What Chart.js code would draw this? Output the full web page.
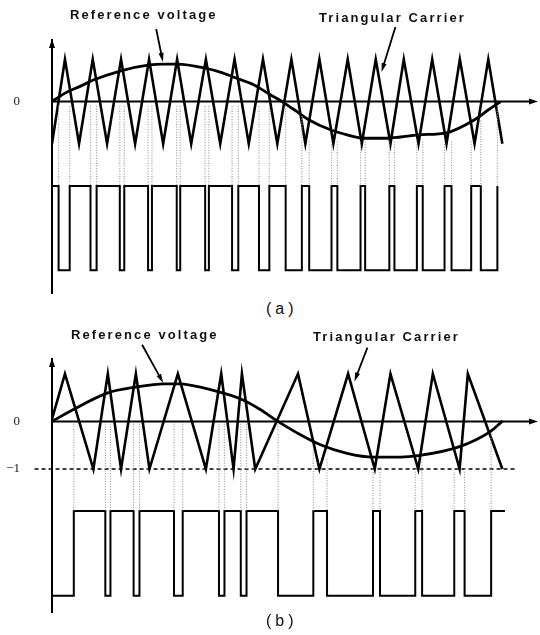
<!DOCTYPE html>
<html><head><meta charset="utf-8">
<script src="https://cdn.jsdelivr.net/npm/chart.js@4.4.1/dist/chart.umd.min.js"></script>
<style>
html,body{margin:0;padding:0;background:#fff;}
#wrap{position:relative;width:540px;height:635px;overflow:hidden;background:#fff;}
.box{position:absolute;left:0;width:540px;height:300px;}
.lbl{position:absolute;font-family:"Liberation Sans",Arial,sans-serif;font-weight:bold;font-size:13px;letter-spacing:2.1px;color:#111;white-space:nowrap;line-height:16px;}
.cap{position:absolute;font-family:"Liberation Sans",Arial,sans-serif;font-size:16px;letter-spacing:4px;color:#111;line-height:18px;white-space:nowrap;}
</style></head>
<body><div id="wrap">
<div class="box" style="top:0px"><canvas id="ca"></canvas></div>
<div class="box" style="top:320px"><canvas id="cb"></canvas></div>
<div class="lbl" style="left:70px;top:7px">Reference voltage</div>
<div class="lbl" style="left:319px;top:10px">Triangular Carrier</div>
<div class="cap" style="left:266px;top:300px">(a)</div>
<div class="lbl" style="left:71px;top:327px">Reference voltage</div>
<div class="lbl" style="left:313px;top:329px">Triangular Carrier</div>
<div class="cap" style="left:266px;top:612px">(b)</div>
</div>
<script>
// ---------- Panel (a): regular sampled carrier (x in degrees of reference phase, y in p.u.) ----------
const carrierAX = [0,10.4,21.7,32.7,44.2,55.4,66.7,77.9,89.2,100.4,111.7,123.5,135,146.5,157.9,169.3,180.8,192.1,203.3,214.6,225.8,237.3,248.6,259.8,271.6,282.3,294.1,305.1,316.6,327.3,339.1,350.1,361.4];
const carrierAY = [-1,1,-1,1,-1,1,-1,1,-1,1,-1,1,-1,1,-1,1,-1,1,-1,1,-1,1,-1,1,-1,1,-1,1,-1,1,-1,1,-1];
const sineAX = [0,10.4,22.5,33.2,55.4,78.2,89.4,100.7,123.5,135,146.5,161.8,175.2,184.6,196.6,206,223.4,236.8,250.2,269,279.7,294.1,316.6,339.1,350,360];
const sineAY = [0,0.20,0.36,0.51,0.73,0.87,0.89,0.89,0.79,0.70,0.57,0.40,0.16,0,-0.24,-0.43,-0.67,-0.79,-0.87,-0.87,-0.84,-0.79,-0.74,-0.43,-0.20,0];
const pulseEdgesA = [5.3,14.2,30.9,35.8,54.4,58.0,77.1,80.2,100.1,102.9,122.9,125.9,144.5,149.5,166.1,174.4,187.5,200.5,206.4,224.3,229.0,247.6,251.3,270.7,274.8,292.8,297.5,315.0,320.6,336.4,344.1,357.4];
const dotTopsA = [-0.1,-0.1,-0.1,-0.1,-0.1,-0.1,-0.1,-0.1,-0.1,-0.1,-0.1,-0.1,-0.1,-0.1,-0.1,-0.1,-0.1,-0.35,-0.95,-0.95,-0.95,-0.95,-0.95,-0.95,-0.95,-0.95,-0.95,-0.95,-0.95,-0.95,-0.45,-0.1];
const pulseLevelsA = [-2, -4];   // high, low
const pulseStartA = 'high';
const pulseEndA = 357.4;
const yTickValuesA = [0];
const yTickLabelsA = ['0'];

// ---------- Panel (b): modified carrier ----------
const carrierBX = [0,10.4,33.2,44.8,55.4,67.3,78.2,101.0,123.5,135.8,145.7,152.4,163.1,197.4,214.6,237.6,259.0,271.6,293.9,305.6,327.1,333.7,361.4];
const carrierBY = [0.05,1,-1,1,-1,1,-1,1,-1,1,-1,1,-1,1,-1,1,-1,1,-1,1,-1,1,-1];
const sineBX = [0,17.1,44.8,67.3,89.4,101,132.4,152.4,167.1,180.6,196.6,215.4,236.8,258.2,279.7,293.9,327.1,352,361.6];
const sineBY = [0,0.25,0.60,0.72,0.79,0.79,0.63,0.46,0.25,0.01,-0.24,-0.49,-0.67,-0.75,-0.75,-0.72,-0.53,-0.21,0.01];
const pulseEdgesB = [17.5,42.8,46.9,65.5,70.2,97.9,104.9,134.0,138.4,151.5,156.1,181.4,209.7,220.7,257.6,263.2,291.5,297.0,322.8,331.1,352.4];
const dotTopsB = [-0.05,-0.05,-0.05,-0.05,-0.05,-0.05,-0.05,-0.05,-0.05,-0.05,-0.05,-0.05,-0.6,-0.8,-0.95,-0.95,-1,-0.8,-1,-1,-0.24];
const pulseLevelsB = [-1.88, -3.66];
const pulseStartB = 'low';
const pulseEndB = 363.5;
const minusOneLine = [-14, 372];   // extent of the dashed −1 reference line
const yTickValuesB = [0, -1];
const yTickLabelsB = ['0', '\u22121'];

// annotation arrows [from, to] in data units
const arrowsA = [[[83.6,1.72],[89.0,0.94]], [[275.6,1.77],[264.4,0.70]]];
const arrowsB = [[[72.3,1.61],[89.2,0.81]], [[253.1,1.55],[242.7,0.84]]];

const X_MAX = 390;

function zip(xs, ys){ return xs.map((x,i)=>({x:x,y:ys[i]})); }
function pulsePts(edges, levels, start, end){
  let cur = start === 'high' ? 0 : 1;
  const pts = [{x:0,y:levels[cur]}];
  edges.forEach(e => { pts.push({x:e,y:levels[cur]}); cur = 1-cur; pts.push({x:e,y:levels[cur]}); });
  if (end > edges[edges.length-1]) pts.push({x:end,y:levels[cur]});
  return pts;
}
function dotPts(edges, tops, bottom){
  const pts = [];
  edges.forEach((e,i) => { pts.push({x:e,y:tops[i]}); pts.push({x:e,y:bottom}); pts.push({x:e,y:null}); });
  return pts;
}

function head(ctx, x, y, ang, len, w){
  ctx.save(); ctx.translate(x,y); ctx.rotate(ang);
  ctx.beginPath(); ctx.moveTo(0,0); ctx.lineTo(-len,-w/2); ctx.lineTo(-len,w/2); ctx.closePath();
  ctx.fillStyle='#000'; ctx.fill(); ctx.restore();
}
const arrowPlugin = {
  id:'arrows',
  afterDatasetsDraw(chart, args, opts){
    const ctx = chart.ctx, xs = chart.scales.x, ys = chart.scales.y, ca = chart.chartArea;
    head(ctx, ca.left, ca.top-1, -Math.PI/2, 9, 6);
    head(ctx, xs.getPixelForValue(X_MAX), ys.getPixelForValue(0), 0, 9, 6);
    (opts.list||[]).forEach(a => {
      const x1 = xs.getPixelForValue(a[0][0]), y1 = ys.getPixelForValue(a[0][1]);
      const x2 = xs.getPixelForValue(a[1][0]), y2 = ys.getPixelForValue(a[1][1]);
      const ang = Math.atan2(y2-y1, x2-x1);
      ctx.save(); ctx.strokeStyle='#000'; ctx.lineWidth=1.8;
      ctx.beginPath(); ctx.moveTo(x1,y1); ctx.lineTo(x2-Math.cos(ang)*6, y2-Math.sin(ang)*6); ctx.stroke(); ctx.restore();
      head(ctx, x2, y2, ang, 9, 5);
    });
  }
};

function line(data, extra){
  return Object.assign({data:data, borderColor:'#000', borderWidth:2, pointRadius:0, fill:false, tension:0, spanGaps:false}, extra||{});
}

function build(id, cfg){
  const datasets = [
    line(dotPts(cfg.edges, cfg.tops, cfg.levels[0]), {borderColor:'#9a9a9a', borderWidth:1.2, borderDash:[1,1.6]}),
    line(pulsePts(cfg.edges, cfg.levels, cfg.start, cfg.end), {borderWidth:2}),
    line([{x:0,y:0},{x:X_MAX-4,y:0}], {borderWidth:2}),
  ];
  if (cfg.minusOne) datasets.push(line([{x:cfg.minusOne[0],y:-1},{x:cfg.minusOne[1],y:-1}], {borderWidth:1.6, borderDash:[4,3], clip:false}));
  datasets.push(line(zip(cfg.cx, cfg.cy), {borderWidth:2.6, borderJoinStyle:'miter'}));
  datasets.push(line(zip(cfg.sx, cfg.sy), {borderWidth:2.8, cubicInterpolationMode:'monotone'}));
  return new Chart(document.getElementById(id), {
    type:'line',
    data:{datasets:datasets},
    options:{
      responsive:true, maintainAspectRatio:false, animation:false, devicePixelRatio:1,
      layout:{padding:{left:0,right:2,top:cfg.padTop,bottom:cfg.padBottom}},
      plugins:{legend:{display:false}, tooltip:{enabled:false}, arrows:{list:cfg.arrows}},
      scales:{
        x:{type:'linear', display:false, min:0, max:X_MAX},
        y:{type:'linear', min:cfg.ymin, max:cfg.ymax,
           grid:{display:false, drawTicks:false},
           border:{display:true, color:'#000', width:2},
           afterBuildTicks:s => { s.ticks = cfg.tickValues.map(v => ({value:v})); },
           afterFit:s => { s.width = 52; s.paddingTop = 0; s.paddingBottom = 0; },
           ticks:{padding:32, color:'#222', font:{family:'"Liberation Serif", serif', size:13},
                  callback:(v,i) => cfg.tickLabels[i]}
        }
      }
    },
    plugins:[arrowPlugin]
  });
}

build('ca', {edges:pulseEdgesA, tops:dotTopsA, levels:pulseLevelsA, start:pulseStartA, end:pulseEndA,
  cx:carrierAX, cy:carrierAY, sx:sineAX, sy:sineAY, ymin:-4.54, ymax:1.46, padTop:40, padBottom:7,
  tickValues:yTickValuesA, tickLabels:yTickLabelsA, arrows:arrowsA});
build('cb', {edges:pulseEdgesB, tops:dotTopsB, levels:pulseLevelsB, start:pulseStartB, end:pulseEndB,
  cx:carrierBX, cy:carrierBY, sx:sineBX, sy:sineBY, ymin:-4.0, ymax:1.31, padTop:39, padBottom:8,
  tickValues:yTickValuesB, tickLabels:yTickLabelsB, arrows:arrowsB, minusOne:minusOneLine});
</script>
</body></html>
